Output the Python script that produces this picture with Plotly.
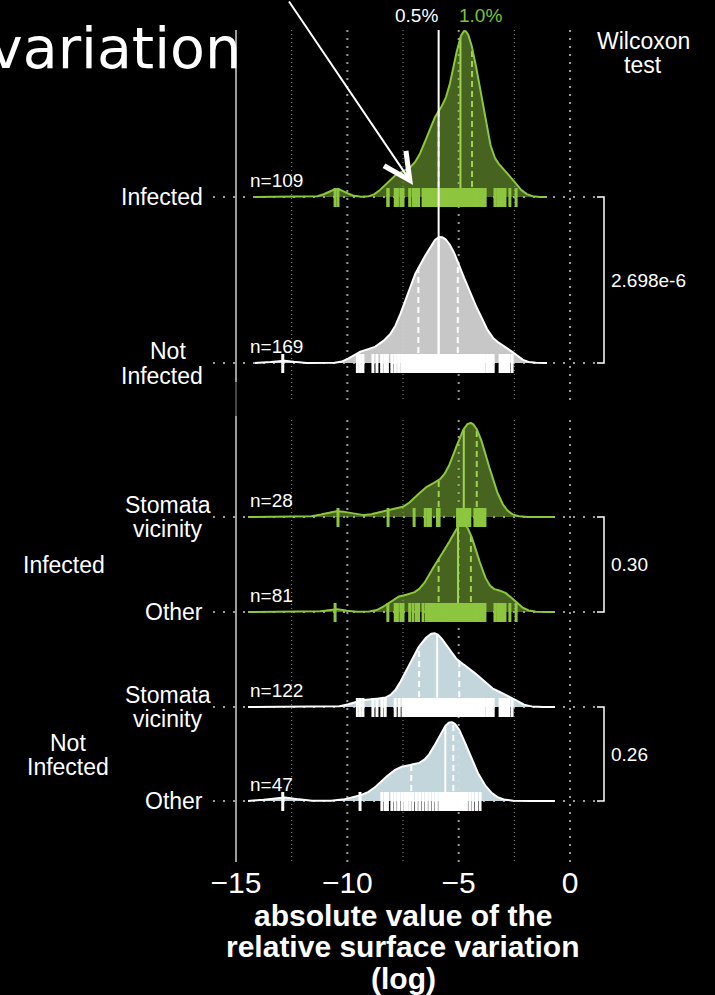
import numpy as np
import plotly.graph_objects as go

# ln(|relative surface variation|) per measured cell
inf_stomata = [-10.42, -8.17, -7.0, -6.5, -6.38, -6.27, -5.95, -5.88,
               -5.05, -4.98, -4.92, -4.88, -4.82, -4.79, -4.75,
               -4.7, -4.62, -4.55, -4.5, -4.27, -4.2, -4.15,
               -4.1, -4.05, -4.0, -3.95, -3.9, -3.82]

inf_other = [-10.55, -8.18, -7.85, -7.75, -7.6, -7.5, -7.2, -7.05, -6.9, -6.8,
             -6.6, -6.45, -6.35, -6.25, -6.18, -6.12, -6.05, -6.0, -5.96, -5.93,
             -5.9,
             -5.86, -5.81, -5.76, -5.71, -5.65, -5.58, -5.52, -5.46, -5.41, -5.36,
             -5.31, -5.27, -5.22, -5.18, -5.15, -5.12, -5.09, -5.07, -5.05,
             -5.03,
             -5.0, -4.97, -4.94, -4.91, -4.88, -4.85, -4.82, -4.79, -4.76, -4.73,
             -4.7, -4.67, -4.64, -4.61, -4.58, -4.55, -4.52, -4.49, -4.47,
             -4.45,
             -4.42, -4.4, -4.35, -4.3, -4.25, -4.2, -4.12, -4.05, -3.98, -3.9,
             -3.85, -3.82, -3.37, -3.25, -3.15, -3.05, -2.98, -2.92, -2.7, -2.42]

ni_stomata = [-9.55, -9.42, -9.3, -8.85, -8.67, -8.45, -8.3, -7.85, -7.67, -7.5,
              -7.45, -7.4, -7.35, -7.3, -7.26, -7.22, -7.18, -7.14, -7.1, -7.06,
              -7.02, -6.98, -6.95, -6.92, -6.89, -6.87, -6.85, -6.83, -6.81, -6.79,
              -6.78,
              -6.76, -6.72, -6.68, -6.64, -6.6, -6.56, -6.52, -6.48, -6.44, -6.4,
              -6.37, -6.34, -6.31, -6.28, -6.25, -6.22, -6.2, -6.18, -6.16, -6.14,
              -6.12, -6.1, -6.08, -6.06, -6.04, -6.02, -6.01, -6.0, -5.98, -5.97,
              -5.96, -5.94, -5.92, -5.9, -5.88, -5.86, -5.84, -5.82, -5.8, -5.77,
              -5.74, -5.71, -5.68, -5.64, -5.6, -5.56, -5.52, -5.47, -5.42, -5.37,
              -5.32, -5.27, -5.22, -5.17, -5.12, -5.08, -5.04, -5.01, -4.99, -4.98,
              -4.97, -4.9, -4.83, -4.76, -4.7, -4.64, -4.6, -4.58, -4.52, -4.47,
              -4.45, -4.42, -4.35, -4.3, -4.25, -4.15, -4.1, -4.05, -3.95, -3.9,
              -3.85, -3.73, -3.65, -3.55, -3.45, -3.14, -3.05, -2.95, -2.85, -2.75,
              -2.6]

ni_other = [-12.9, -9.43, -8.45, -8.3, -8.2, -8.0, -7.85, -7.7, -7.55, -7.42, -7.32, -7.2,
            -7.06, -6.9, -6.75, -6.6, -6.45, -6.3, -6.15, -6.0, -5.85, -5.75, -5.65,
            -5.6,
            -5.55, -5.5, -5.45, -5.42, -5.38, -5.35, -5.32, -5.3, -5.28, -5.26, -5.25,
            -5.23, -5.2, -5.15, -5.05, -4.95, -4.85, -4.75, -4.65, -4.5, -4.36, -4.2, -4.04]

inf_all = inf_stomata + inf_other
ni_all = ni_stomata + ni_other

p_values = ["2.698e-6", "0.30", "0.26"]
tick_vals = [-15, -10, -5, 0]
minor_grid = [-12.5, -7.5, -2.5]

# ---------------------------------------------------------------- layout
W, H = 715, 995
PLOT_BOTTOM = 862                       # pixel row of the plot-area bottom
PX_AXIS_MIN, PX_AXIS_MAX = 236, 570     # pixel columns of x = -15 and x = 0
PPU = (PX_AXIS_MAX - PX_AXIS_MIN) / 15.0
X_LEFT = -15 - PX_AXIS_MIN / PPU
X_RIGHT = 0 + (W - PX_AXIS_MAX) / PPU

FONT = "Liberation Sans, Arial, sans-serif"
WHITE = "#ffffff"
GREEN = "#8dc63f"
GREEN_Q = "#9fd451"
GREY_DOT = "#9a9a9a"


def xd(px):
    return -15 + (px - PX_AXIS_MIN) / PPU


def xp(px):
    return px / W


def yp(py):
    return (PLOT_BOTTOM - py) / PLOT_BOTTOM


def bw_nrd0(v):
    v = np.asarray(v, float)
    sd = np.std(v, ddof=1)
    q75, q25 = np.percentile(v, [75, 25])
    lo = min(sd, (q75 - q25) / 1.34)
    return 0.9 * lo * len(v) ** -0.2


def kde(v, grid):
    v = np.asarray(v, float)
    bw = bw_nrd0(v)
    z = (grid[:, None] - v[None, :]) / bw
    return np.exp(-0.5 * z ** 2).sum(axis=1) / (len(v) * bw * np.sqrt(2 * np.pi))


styles = {
    "inf": dict(fill="rgba(141,198,63,0.5)", line=GREEN, rug=GREEN, q=GREEN_Q),
    "ni_top": dict(fill="rgba(214,214,214,0.93)", line=WHITE, rug=WHITE, q=WHITE),
    "ni_bot": dict(fill="rgba(204,226,231,0.95)", line=WHITE, rug=WHITE, q=WHITE),
}

panels = {
    "top": dict(height=166, grid=(xd(255), xd(547))),
    "bottom": dict(height=94, grid=(xd(248), xd(555))),
}

ridges = [
    dict(vals=inf_all, base=197, panel="top", style="inf"),
    dict(vals=ni_all, base=363, panel="top", style="ni_top"),
    dict(vals=inf_stomata, base=517, panel="bottom", style="inf"),
    dict(vals=inf_other, base=612, panel="bottom", style="inf"),
    dict(vals=ni_stomata, base=707, panel="bottom", style="ni_bot"),
    dict(vals=ni_other, base=801, panel="bottom", style="ni_bot"),
]

# densities and a common vertical scale within each panel
for r in ridges:
    g0, g1 = panels[r["panel"]]["grid"]
    r["grid"] = np.linspace(g0, g1, 600)
    r["dens"] = kde(r["vals"], r["grid"])
for name, p in panels.items():
    peak = max(r["dens"].max() for r in ridges if r["panel"] == name)
    p["scale"] = p["height"] / peak

fig = go.Figure()
shapes = []

# vertical grid, split between the two panels
for y0, y1 in [(30, 400), (420, PLOT_BOTTOM)]:
    for v in tick_vals[1:]:
        shapes.append(dict(type="line", xref="x", yref="y", x0=v, x1=v, y0=y0, y1=y1,
                           line=dict(color=GREY_DOT, width=2, dash="2px,6px"), layer="below"))
    for v in minor_grid:
        shapes.append(dict(type="line", xref="x", yref="y", x0=v, x1=v, y0=y0, y1=y1,
                           line=dict(color="#8a8a8a", width=1, dash="1px,3px"), layer="below"))
# solid axis line at -15
for y0, y1, c in [(30, 382, "#9c9c9c"), (382, 416, "#454545"), (416, PLOT_BOTTOM, "#9c9c9c")]:
    shapes.append(dict(type="line", xref="x", yref="y", x0=-15, x1=-15, y0=y0, y1=y1,
                       line=dict(color=c, width=2), layer="below"))

# dotted baselines (also the category ticks)
for r in ridges:
    shapes.append(dict(type="line", xref="x", yref="y", x0=xd(213), x1=xd(598),
                       y0=r["base"], y1=r["base"],
                       line=dict(color=GREY_DOT, width=2, dash="2px,8px"), layer="below"))

for r in ridges:
    st = styles[r["style"]]
    base = r["base"]
    sc = panels[r["panel"]]["scale"]
    gx = r["grid"]
    gy = base - r["dens"] * sc
    # filled area
    fig.add_trace(go.Scatter(x=np.concatenate([gx, gx[::-1]]),
                             y=np.concatenate([gy, np.full(len(gx), base)]),
                             fill="toself", fillcolor=st["fill"], line=dict(width=0),
                             mode="lines", hoverinfo="skip", showlegend=False))
    # quartiles (dashed) and median (solid)
    q1, med, q3 = np.percentile(r["vals"], [25, 50, 75])
    r["median"] = med
    for q, dash in [(q1, "6px,4px"), (q3, "6px,4px"), (med, "solid")]:
        top = base - np.interp(q, gx, r["dens"]) * sc
        fig.add_trace(go.Scatter(x=[q, q], y=[base, top], mode="lines",
                                 line=dict(color=st["q"], width=2, dash=dash),
                                 hoverinfo="skip", showlegend=False))
    # rug
    rx, ry = [], []
    for v in r["vals"]:
        rx += [v, v, None]
        ry += [base - 9, base + 10, None]
    fig.add_trace(go.Scatter(x=rx, y=ry, mode="lines", line=dict(color=st["rug"], width=3),
                             hoverinfo="skip", showlegend=False))
    # density outline
    fig.add_trace(go.Scatter(x=gx, y=gy, mode="lines", line=dict(color=st["line"], width=2),
                             hoverinfo="skip", showlegend=False))

# overall not-infected median carried up through the infected ridge
ni_med = ridges[1]["median"]
inf_med = ridges[0]["median"]
fig.add_trace(go.Scatter(x=[ni_med, ni_med], y=[ridges[1]["base"], 30], mode="lines",
                         line=dict(color=WHITE, width=2), hoverinfo="skip", showlegend=False))

# Wilcoxon brackets
bracket_pairs = [(197, 363), (517, 612), (707, 801)]
for (ya, yb), pv in zip(bracket_pairs, p_values):
    shapes.append(dict(type="path", xref="x", yref="y",
                       path=f"M{xd(597)},{ya} L{xd(604)},{ya} L{xd(604)},{yb} L{xd(597)},{yb}",
                       line=dict(color=WHITE, width=1.5)))

annotations = []


def text(lines, x_px, y_px, anchor="center", size=23, color=WHITE, spacing=None,
         family=FONT, bold=False):
    spacing = spacing if spacing is not None else size * 1.05
    n = len(lines)
    for i, t in enumerate(lines):
        yy = y_px + (i - (n - 1) / 2) * spacing
        annotations.append(dict(text=f"<b>{t}</b>" if bold else t, xref="paper", yref="paper",
                                x=xp(x_px), y=yp(yy), xanchor=anchor, yanchor="middle",
                                showarrow=False,
                                font=dict(family=family, size=size, color=color)))


# category labels
text(["Infected"], 205, 197, anchor="right")
text(["Not"], 168, 351)
text(["Infected"], 205, 376, anchor="right")
text(["Stomata", "vicinity"], 168, 517, spacing=23.5)
text(["Other"], 205, 612, anchor="right")
text(["Stomata", "vicinity"], 168, 707, spacing=23.5)
text(["Other"], 205, 801, anchor="right")
text(["Infected"], 64, 565)
text(["Not", "Infected"], 68, 755, spacing=23.5)

# sample sizes
for r in ridges:
    text([f"n={len(r['vals'])}"], 248, r["base"] - 17, anchor="left", size=19)

# p-values and header
for (ya, yb), pv in zip(bracket_pairs, p_values):
    text([pv], 609, (ya + yb) / 2, anchor="left", size=19)
text(["Wilcoxon", "test"], 643, 53, spacing=23.5)

# median percentages
annotations.append(dict(text="0.5%", x=ni_med, y=yp(15), xref="x", yref="paper",
                        xanchor="right", yanchor="middle", showarrow=False, xshift=1,
                        font=dict(family=FONT, size=19, color=WHITE)))
annotations.append(dict(text="1.0%", x=inf_med, y=yp(15), xref="x", yref="paper",
                        xanchor="left", yanchor="middle", showarrow=False, xshift=-3,
                        font=dict(family=FONT, size=19, color="#7cc23a")))

# x-axis title
text(["absolute value of the", "relative surface variation", "(log)"],
     PX_AXIS_MIN + (PX_AXIS_MAX - PX_AXIS_MIN) / 2, 947, size=30, spacing=31.5, bold=True)

# heading fragment
text(["variation"], 243, 48, anchor="right", size=57, family="DejaVu Sans, sans-serif")

# pointer arrow
annotations.append(dict(x=xd(413), y=185, xref="x", yref="y", text="", showarrow=True,
                        ax=-125, ay=-200, arrowhead=5, arrowsize=2.6, arrowwidth=2,
                        arrowcolor=WHITE, standoff=0))

fig.update_layout(
    width=W, height=H,
    margin=dict(l=0, r=0, t=0, b=H - PLOT_BOTTOM),
    paper_bgcolor="#000000", plot_bgcolor="#000000",
    shapes=shapes, annotations=annotations,
    xaxis=dict(range=[X_LEFT, X_RIGHT], tickvals=tick_vals, showgrid=False, zeroline=False,
               showline=False, ticks="", tickfont=dict(family=FONT, size=30, color=WHITE),
               ticklabelstandoff=0, fixedrange=True),
    yaxis=dict(range=[PLOT_BOTTOM, 0], visible=False, fixedrange=True),
    showlegend=False,
)

fig.write_html("out.html")
